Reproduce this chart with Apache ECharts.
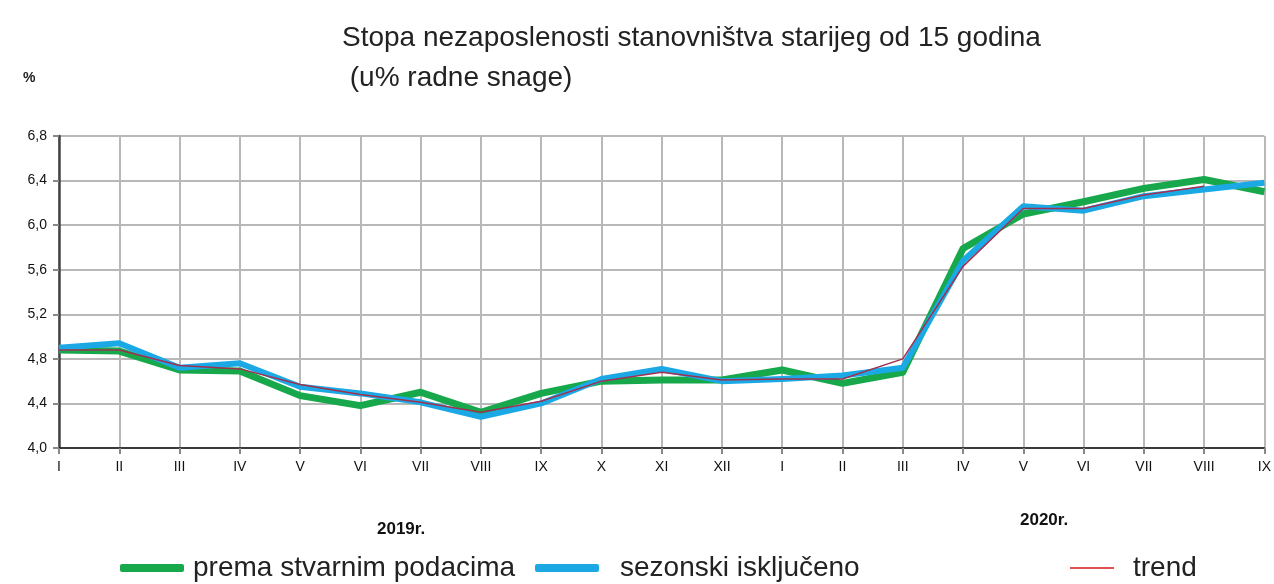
<!DOCTYPE html>
<html>
<head>
<meta charset="utf-8">
<script src="https://cdn.jsdelivr.net/npm/echarts@6/dist/echarts.min.js"></script>
<style>html,body{margin:0;padding:0;background:#fff}#c{width:1274px;height:584px}</style>
</head>
<body>
<div id="c"></div>
<script>
const categories = ['I','II','III','IV','V','VI','VII','VIII','IX','X','XI','XII','I','II','III','IV','V','VI','VII','VIII','IX'];
const actual   = [4.88,4.87,4.70,4.69,4.47,4.38,4.50,4.32,4.49,4.60,4.61,4.61,4.70,4.58,4.68,5.79,6.10,6.21,6.33,6.41,6.30];
const seasonal = [4.90,4.94,4.72,4.76,4.55,4.49,4.41,4.28,4.40,4.62,4.71,4.60,4.62,4.65,4.72,5.68,6.17,6.13,6.26,6.32,6.38];
const trend    = [4.88,4.88,4.74,4.71,4.57,4.48,4.41,4.32,4.42,4.60,4.68,4.61,4.62,4.62,4.80,5.63,6.15,6.15,6.27,6.35,null];
const yTicks = {min:4.0, max:6.8, interval:0.4};
const names = ['prema stvarnim podacima','sezonski isključeno','trend'];
const yearLabels = ['2019r.','2020r.'];

const chart = echarts.init(document.getElementById('c'));
const font = 'Liberation Sans, Arial, sans-serif';
chart.setOption({
  animation:false,
  backgroundColor:'#fff',
  title:[
    {text:'Stopa nezaposlenosti stanovništva starijeg od 15 godina', left:337, top:19,
     textStyle:{fontFamily:font,fontWeight:'normal',fontSize:28,color:'#222'}},
    {text:' (u% radne snage)', left:337, top:59,
     textStyle:{fontFamily:font,fontWeight:'normal',fontSize:28,color:'#222'}},
    {text:'%', left:18, top:66, textStyle:{fontFamily:font,fontWeight:'bold',fontSize:14,color:'#222'}},
    {text:yearLabels[0], left:372, top:516, textStyle:{fontFamily:font,fontWeight:'bold',fontSize:17,color:'#111'}},
    {text:yearLabels[1], left:1015, top:507, textStyle:{fontFamily:font,fontWeight:'bold',fontSize:17,color:'#111'}}
  ],
  legend:[
    {data:[names[0]], left:115, top:549, itemWidth:64, itemHeight:8, icon:'roundRect',
     textStyle:{fontFamily:font,fontSize:28,color:'#222',padding:[0,0,0,4]}},
    {data:[names[1]], left:530, top:549, itemWidth:64, itemHeight:8, icon:'roundRect',
     textStyle:{fontFamily:font,fontSize:28,color:'#222',padding:[0,0,0,16]}},
    {data:[names[2]], left:1065, top:549, itemWidth:44, itemHeight:2, icon:'rect',
     textStyle:{fontFamily:font,fontSize:28,color:'#222',padding:[0,0,0,14]}}
  ],
  grid:{left:59, right:9, top:136, bottom:136, containLabel:false},
  xAxis:{
    type:'category', data:categories, boundaryGap:false,
    axisLine:{lineStyle:{color:'#111',width:1.5}},
    axisTick:{show:true, length:6, lineStyle:{color:'#888',width:2}},
    axisLabel:{fontFamily:font,fontSize:14,color:'#111',margin:12},
    splitLine:{show:true,lineStyle:{color:'#b8b8b8',width:2}}
  },
  yAxis:{
    type:'value', min:yTicks.min, max:yTicks.max, interval:yTicks.interval,
    axisLine:{show:true,lineStyle:{color:'#444',width:2.5}},
    axisTick:{show:true,length:6,lineStyle:{color:'#888',width:2}},
    axisLabel:{fontFamily:font,fontSize:14,color:'#111',margin:12,
      formatter:v=>v.toFixed(1).replace('.',',')},
    splitLine:{show:true,lineStyle:{color:'#b8b8b8',width:2}}
  },
  series:[
    {name:names[0], type:'line', data:actual, symbol:'none', color:'#17a84b',
     lineStyle:{width:7,color:'#17a84b',join:'round'}, z:2},
    {name:names[1], type:'line', data:seasonal, symbol:'none', color:'#1ba9e6',
     lineStyle:{width:6,color:'#1ba9e6',join:'round'}, z:3},
    {name:names[2], type:'line', data:trend, symbol:'none', color:'#e05252',
     lineStyle:{width:1.5,color:'#a03050'}, z:4}
  ]
});
</script>
</body>
</html>
